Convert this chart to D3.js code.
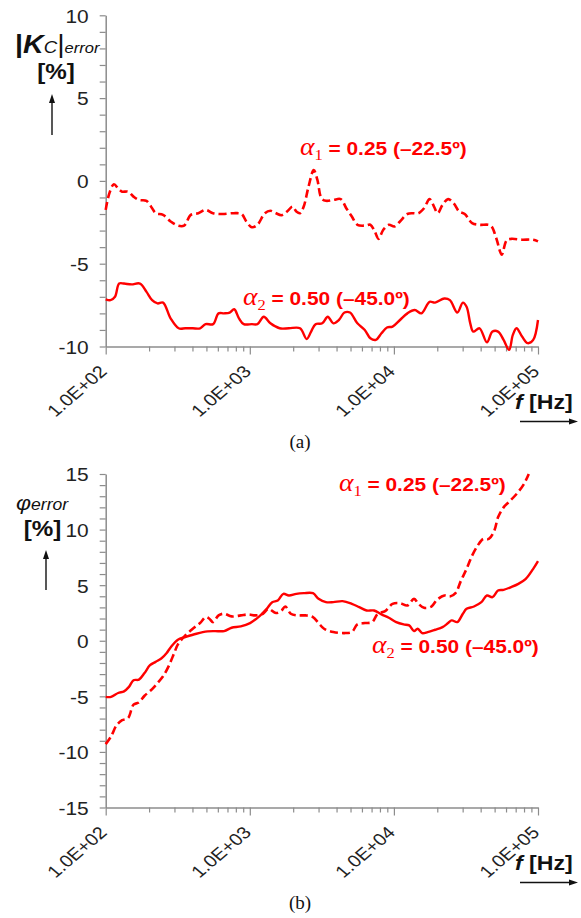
<!DOCTYPE html>
<html>
<head>
<meta charset="utf-8">
<script src="https://cdn.jsdelivr.net/npm/d3@7"></script>
<style>
  body { margin: 0; background: #fff; }
  svg { display: block; }
</style>
</head>
<body>
<svg id="chart" width="581" height="918"></svg>
<script>
// (a) |Kc| error [%], alpha1 = 0.25 (dashed)
const kcFreq1 = [100,106,114,123,130,143,156,170,192,210,222,250,282,317,350,390,439,494,556,644,
  769,876,946,1034,1130,1272,1390,1519,1660,1814,1982,2103,2231,2367,2556,2777,2945,3144,3376,3798,
  4276,4673,5106,5580,6281,6862,7367,7816,8442,9224,10080,11020,12400,13550,14800,16180,17680,18980,20140,21750,
  23770,25970,28380,31010,34900,39280,46930,51270,56020,60480,64940,77530,92620,100000];
const kcErr1 = [-1.75,-0.75,-0.2,-0.5,-0.65,-0.65,-0.95,-1.15,-1.2,-1.65,-1.95,-2.05,-2.45,-2.7,-2.7,-2.05,-1.95,-1.75,-1.95,-2.0,
  -1.95,-2.0,-2.45,-2.8,-2.65,-1.95,-1.8,-1.95,-2.07,-1.85,-1.55,-1.85,-1.95,-1.55,-0.35,0.66,0.06,-1.05,-1.2,-1.15,
  -1.1,-1.65,-2.15,-2.65,-2.7,-2.65,-3.05,-3.5,-2.95,-2.65,-2.75,-2.45,-2.0,-1.95,-1.95,-1.65,-1.1,-1.55,-1.95,-1.45,
  -1.1,-1.35,-1.85,-2.0,-2.55,-2.65,-2.7,-3.45,-4.45,-3.6,-3.5,-3.55,-3.55,-3.65];

// (a) alpha2 = 0.50 (solid)
const kcFreq2 = [100,108,116,124,134,151,173,192,210,229,250,282,321,357,402,452,494,556,607,663,
  725,779,841,908,1034,1130,1250,1390,1611,1868,2231,2481,2664,2860,3181,3476,3798,4151,4537,4957,
  5580,6281,6862,7499,8195,8956,9786,11020,12400,13950,15520,17680,19320,22400,24480,27550,30100,31940,33880,35520,
  39280,44220,48320,52800,57710,63050,66900,70960,77530,84760,92620,100000];
const kcErr2 = [-7.15,-7.2,-7.0,-6.2,-6.2,-6.25,-6.2,-6.7,-7.2,-7.4,-7.35,-8.3,-8.9,-8.9,-8.9,-8.9,-8.65,-8.65,-8.0,-8.0,
  -7.95,-7.75,-8.3,-8.65,-8.65,-8.65,-8.2,-8.6,-8.9,-8.9,-8.9,-9.55,-9.1,-8.65,-8.6,-8.2,-8.6,-8.4,-7.95,-7.95,
  -8.6,-9.0,-9.5,-9.6,-9.2,-8.85,-8.8,-8.4,-8.0,-7.8,-8.0,-7.3,-7.35,-7.1,-7.2,-7.95,-7.35,-7.6,-8.6,-9.1,
  -8.9,-9.75,-9.1,-9.1,-9.6,-10.2,-9.3,-8.9,-9.4,-9.8,-9.6,-8.4];

// (b) phase error [%], alpha1 = 0.25 (dashed)
const phFreq1 = [100,109,119,130,143,156,170,186,210,229,250,273,299,317,357,402,452,494,524,556,
  607,663,747,866,975,1097,1235,1350,1519,1660,1761,1924,2103,2438,2744,3000,3276,3798,4537,5106,
  5580,6281,7069,7725,8695,9786,11020,12400,13790,14800,16180,18210,19890,22400,24480,26750,29230,31940,34900,38140,
  41680,45540,49770,52800,57710,63050,70960,79880,86280];
const phErr1 = [-9.3,-8.6,-7.6,-7.15,-6.95,-5.75,-5.55,-4.95,-4.35,-3.8,-3.2,-2.3,-1.1,-0.33,0.48,1.08,1.59,2.13,1.98,1.68,
  2.28,2.43,2.19,2.28,2.37,2.28,2.43,2.87,2.49,2.72,3.08,2.43,2.28,2.28,2.13,1.59,1.08,0.78,0.69,0.78,
  1.47,1.59,1.68,2.43,2.66,3.32,3.38,3.17,3.77,3.32,2.96,3.08,3.68,4.07,3.98,4.28,5.42,6.47,7.66,8.56,
  9.16,9.16,9.91,11.1,12.0,12.5,13.2,14.1,15.0];

// (b) alpha2 = 0.50 (solid)
const phFreq2 = [100,109,122,134,145,156,170,186,203,222,243,265,282,317,357,426,509,572,663,747,
  866,1004,1164,1310,1431,1564,1710,1868,2103,2367,2744,3000,3376,3798,4405,5106,5747,6469,7280,8195,
  9224,10380,11680,12770,13790,14630,15700,17160,19320,21750,23770,25200,27550,30100,31940,35940,40460,44220,48320,52800,
  57710,64940,73100,82290,92620,100000];
const phErr2 = [-5.05,-5.05,-4.7,-4.55,-4.15,-3.55,-3.5,-2.9,-2.2,-1.9,-1.6,-1.1,-0.6,0.1,0.33,0.63,0.84,0.87,0.87,1.17,
  1.29,1.59,2.19,2.87,3.47,3.62,4.22,4.07,4.22,4.28,4.28,3.77,3.47,3.47,3.56,3.32,3.02,2.72,2.72,2.37,
  2.07,1.68,1.47,1.38,0.87,1.08,0.69,0.78,0.99,1.23,1.59,1.83,1.68,2.43,2.87,3.08,3.47,4.07,3.92,4.52,
  4.58,4.82,5.12,5.57,6.47,7.16];

// tick labels and series labels
const kcTickLabels = [-10, -5, 0, 5, 10];
const phTickLabels = [-15, -10, -5, 0, 5, 10, 15];
const alphaSubs = ["1", "2"];
const alphaTexts = ["0.25 (\u201322.5\u00ba)", "0.50 (\u201345.0\u00ba)"];
const captions = ["(a)", "(b)"];

const RED = "#ff0000";
const AXIS = "#8c8c8c";
const SANS = "Liberation Sans, Arial, sans-serif";
const SERIF = "Liberation Serif, Times New Roman, serif";

const svg = d3.select("#chart");
svg.append("rect").attr("width", 581).attr("height", 918).attr("fill", "#fff");

const x = d3.scaleLog().domain([100, 1e5]).range([105.7, 538]);

function expLabel(d) {
  const e = Math.round(Math.log10(d));
  return "1.0E+" + String(e).padStart(2, "0");
}

function drawPanel(cfg) {
  const y = d3.scaleLinear().domain(cfg.domain).range([cfg.bottom, cfg.top]);
  const g = svg.append("g");

  // y axis
  const ya = g.append("g")
    .attr("transform", `translate(${x.range()[0]},0)`)
    .call(d3.axisLeft(y)
      .tickValues(d3.range(cfg.domain[0], cfg.domain[1] + 1))
      .tickSize(6).tickSizeOuter(0)
      .tickFormat(d => cfg.labels.includes(d) ? String(d) : ""));
  ya.select(".domain").attr("stroke", AXIS).attr("stroke-width", 1.5);
  ya.selectAll(".tick line").attr("stroke", AXIS).attr("stroke-width", 1.2);
  ya.selectAll(".tick text")
    .attr("x", 0).attr("dy", "0.36em")
    .attr("transform", "translate(-17,0) scale(1.1,1)")
    .attr("font-family", SANS).attr("font-size", 19).attr("fill", "#222");

  // x axis
  const xa = g.append("g")
    .attr("transform", `translate(0,${cfg.bottom})`)
    .call(d3.axisBottom(x)
      .tickValues(x.ticks())
      .tickSize(6).tickSizeOuter(0)
      .tickFormat(d => Number.isInteger(Math.log10(d)) ? expLabel(d) : ""));
  xa.select(".domain").attr("stroke", AXIS).attr("stroke-width", 1.5);
  xa.selectAll(".tick line").attr("stroke", AXIS).attr("stroke-width", 1.2)
    .attr("y2", d => Number.isInteger(Math.log10(d)) ? 8 : 5);
  xa.selectAll(".tick text")
    .attr("x", 0).attr("y", 0).attr("dy", null)
    .attr("text-anchor", "end")
    .attr("transform", "translate(2,26) scale(1.17,1) rotate(-45)")
    .attr("font-family", SANS).attr("font-size", 17).attr("fill", "#222");

  const line = d3.line()
    .x(d => x(d[0])).y(d => y(d[1]))
    .curve(d3.curveCatmullRom.alpha(0.5));

  g.append("path").datum(d3.zip(cfg.f2, cfg.v2))
    .attr("d", line).attr("fill", "none")
    .attr("stroke", RED).attr("stroke-width", 2.4);
  g.append("path").datum(d3.zip(cfg.f1, cfg.v1))
    .attr("d", line).attr("fill", "none")
    .attr("stroke", RED).attr("stroke-width", 2.6)
    .attr("stroke-dasharray", "8,4");

  // series labels
  cfg.labelPos.forEach((p, i) => {
    const t = g.append("text")
      .attr("transform", `translate(${p[0]},${p[1]}) scale(1.1,1)`)
      .attr("fill", RED);
    t.append("tspan").attr("font-family", SERIF).attr("font-style", "italic")
      .attr("font-size", 25).text("\u03b1");
    t.append("tspan").attr("font-family", SERIF).attr("font-size", 15)
      .attr("dy", 5).text(alphaSubs[i]);
    t.append("tspan").attr("font-family", SANS).attr("font-weight", "bold")
      .attr("font-size", 19).attr("dy", -5).text(" = " + alphaTexts[i]);
  });

  // f [Hz] label with arrow
  const ft = g.append("text")
    .attr("transform", `translate(515,${cfg.bottom + 62}) scale(1.1,1)`)
    .attr("font-family", SANS).attr("font-weight", "bold").attr("font-size", 21)
    .attr("fill", "#111");
  ft.append("tspan").attr("font-style", "italic").text("f");
  ft.append("tspan").text(" [Hz]");
  arrow(g, [520, cfg.bottom + 75], [578, cfg.bottom + 75]);

  // caption
  g.append("text")
    .attr("x", 300).attr("y", cfg.bottom + 101)
    .attr("text-anchor", "middle")
    .attr("font-family", SERIF).attr("font-size", 19).attr("fill", "#111")
    .text(cfg.caption);
}

function arrow(g, from, to) {
  const ang = Math.atan2(to[1] - from[1], to[0] - from[0]);
  const len = 9, half = 3;
  const bx = to[0] - len * Math.cos(ang), by = to[1] - len * Math.sin(ang);
  g.append("line")
    .attr("x1", from[0]).attr("y1", from[1]).attr("x2", bx).attr("y2", by)
    .attr("stroke", "#111").attr("stroke-width", 1.4);
  g.append("path")
    .attr("d", `M${to[0]},${to[1]}L${bx - half * Math.sin(ang)},${by + half * Math.cos(ang)}` +
      `L${bx + half * Math.sin(ang)},${by - half * Math.cos(ang)}Z`)
    .attr("fill", "#111");
}

drawPanel({
  domain: [-10, 10], top: 15.3, bottom: 346.5, labels: kcTickLabels,
  f1: kcFreq1, v1: kcErr1, f2: kcFreq2, v2: kcErr2,
  labelPos: [[300, 155], [243, 305]], caption: captions[0]
});
drawPanel({
  domain: [-15, 15], top: 474, bottom: 807.5, labels: phTickLabels,
  f1: phFreq1, v1: phErr1, f2: phFreq2, v2: phErr2,
  labelPos: [[339, 491], [372, 653]], caption: captions[1]
});

// y axis titles
const kt = svg.append("text")
  .attr("transform", "translate(15,53) scale(1.1,1)")
  .attr("font-family", SANS).attr("fill", "#111");
kt.append("tspan").attr("font-weight", "bold").attr("font-size", 26).text("|");
kt.append("tspan").attr("font-weight", "bold").attr("font-style", "italic").attr("font-size", 26).text("K");
kt.append("tspan").attr("font-style", "italic").attr("font-size", 17).text("C");
kt.append("tspan").attr("font-size", 26).text("|");
kt.append("tspan").attr("font-style", "italic").attr("font-size", 15).text("error");

svg.append("text")
  .attr("transform", "translate(56,78.5) scale(1.1,1)")
  .attr("text-anchor", "middle")
  .attr("font-family", SANS).attr("font-weight", "bold").attr("font-size", 22).attr("fill", "#111")
  .text("[%]");
arrow(svg, [52, 135], [52, 94]);

const pt = svg.append("text")
  .attr("transform", "translate(16,510) scale(1.1,1)")
  .attr("font-family", SANS).attr("font-style", "italic").attr("fill", "#111");
pt.append("tspan").attr("font-size", 21).text("\u03c6");
pt.append("tspan").attr("font-size", 16).text("error");

svg.append("text")
  .attr("transform", "translate(42.5,536) scale(1.1,1)")
  .attr("text-anchor", "middle")
  .attr("font-family", SANS).attr("font-weight", "bold").attr("font-size", 22).attr("fill", "#111")
  .text("[%]");
arrow(svg, [46, 590], [46, 550]);
</script>
</body>
</html>
